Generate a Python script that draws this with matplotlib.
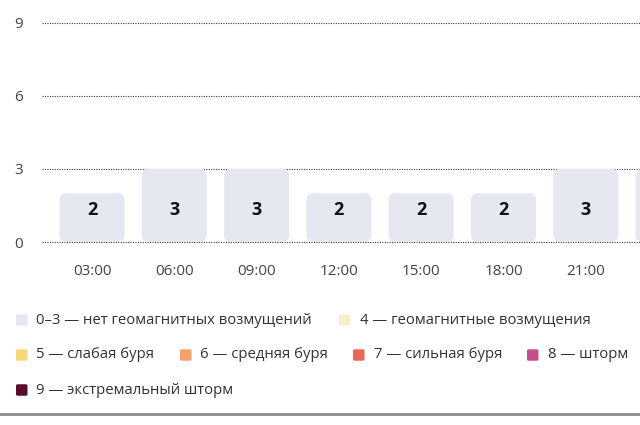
import matplotlib
matplotlib.use("Agg")
import matplotlib.pyplot as plt
from matplotlib.patches import FancyBboxPatch
from matplotlib.lines import Line2D

plt.rcParams['font.family'] = ['Open Sans', 'DejaVu Sans']

# ---- data ----
times = ["03:00", "06:00", "09:00", "12:00", "15:00", "18:00", "21:00", "00:00"]
kp_values = [2, 3, 3, 2, 2, 2, 3, 3]
y_ticks = [0, 3, 6, 9]

legend_labels = [
    "0–3 — нет геомагнитных возмущений",
    "4 — геомагнитные возмущения",
    "5 — слабая буря",
    "6 — средняя буря",
    "7 — сильная буря",
    "8 — шторм",
    "9 — экстремальный шторм",
]
legend_colors = ["#e6e8f1", "#f9eec9", "#f9d677", "#f59f6d", "#ea6659", "#c44f8c", "#5b0c2c"]

W, H = 640, 425
fig = plt.figure(figsize=(W / 100, H / 100), dpi=100)
fig.patch.set_facecolor("white")

# axes geometry in pixels
ax_left_px, ax_right_px = 42, 640
y0_px, y9_px = 242, 22.5
ymin, ymax = -0.2, 9.2
ppu = (y0_px - y9_px) / 9
bot_px = y0_px - ymin * ppu
top_px = y9_px - (ymax - 9) * ppu
ax = fig.add_axes([ax_left_px / W, 1 - bot_px / H,
                   (ax_right_px - ax_left_px) / W, (bot_px - top_px) / H])

spacing_px = 82.3
c0_px = 92
xmin = -(c0_px - ax_left_px) / spacing_px
xmax = (ax_right_px - c0_px) / spacing_px

for s in ax.spines.values():
    s.set_visible(False)

for t in y_ticks:
    ax.axhline(t, color="#3a3a3a", lw=0.8, ls=(0, (1, 1.2)), zorder=1)

bw = 0.79
rx = 7 / spacing_px
aspect = (7 / ppu) / rx
bar_color = legend_colors[0]
for i, v in enumerate(kp_values):
    p = FancyBboxPatch((i - bw / 2, 0), bw, v,
                       boxstyle=f"round,pad=0,rounding_size={rx}",
                       mutation_aspect=aspect, fc=bar_color, ec="none", zorder=2,
                       clip_on=True)
    ax.add_patch(p)
    if i < len(kp_values) - 1:
        ax.text(i, 1.3, str(v), ha="center", va="center", fontsize=13,
                fontweight="bold", color="#111111", zorder=3)

ax.set_xticks(range(len(times)))
ax.set_xticklabels(times)
ax.set_yticks(y_ticks)
ax.set_xlim(xmin, xmax)
ax.set_ylim(ymin, ymax)
ax.tick_params(axis="both", length=0, labelsize=11, colors="#444444")
ax.tick_params(axis="x", pad=12)
ax.tick_params(axis="y", pad=17)
for lab in ax.get_yticklabels():
    lab.set_horizontalalignment("center")

# ---- legend (manual) ----
legend_pos = [  # (square x px, row center y px)
    (16, 320), (339, 320),
    (16, 355), (180, 355), (353, 355), (527, 355),
    (16, 390),
]
sq = 11.5
for (sx, cy), lab, col in zip(legend_pos, legend_labels, legend_colors):
    fig.patches.append(FancyBboxPatch(((sx) / W, 1 - (cy + sq / 2) / H), sq / W, sq / H,
                                      boxstyle="round,pad=0,rounding_size=0.003",
                                      transform=fig.transFigure, fc=col, ec="none",
                                      figure=fig))
    fig.text((sx + sq + 9) / W, 1 - cy / H, lab, ha="left", va="center",
             fontsize=10.7, color="#333333")

fig.add_artist(Line2D([0, 1], [1 - 414 / H, 1 - 414 / H], transform=fig.transFigure,
                      color="#8c8c8c", lw=2))

fig.savefig("out.png", dpi=100, facecolor="white")
